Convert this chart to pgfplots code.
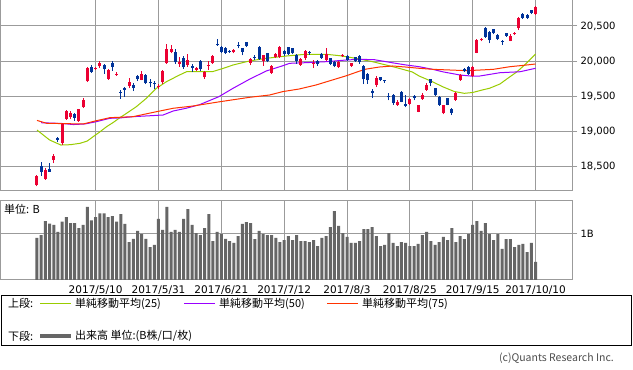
\documentclass[border=0pt]{standalone}
\usepackage{fontspec}
\setmainfont{DejaVu Sans}
\newfontfamily\jp{Noto Sans CJK JP}
\usepackage{pgfplots}
\usepackage{pgfplotstable}
\pgfplotsset{compat=1.18}
\definecolor{cup}{RGB}{235,0,50}
\definecolor{cdn}{RGB}{0,51,153}
\definecolor{mag}{RGB}{153,204,0}
\definecolor{mbp}{RGB}{153,0,255}
\definecolor{mcr}{RGB}{255,51,0}
\definecolor{vgray}{RGB}{102,102,102}
\definecolor{gline}{RGB}{155,155,155}

\pgfplotstableread{
i o h l c
0 18235 18380 18215 18365
2 18318 18480 18310 18446
4 18590 18670 18540 18645
6 18830 19110 18800 19100
7 19175 19300 19160 19290
8 19200 19285 19170 19255
10 19140 19320 19130 19310
11 19340 19470 19330 19450
12 19710 19920 19700 19895
14 19890 19920 19870 19905
15 19925 19995 19900 19975
17 19745 19880 19735 19870
19 19805 19845 19790 19815
22 19645 19755 19610 19700
25 19735 19860 19725 19813
29 19625 19670 19600 19650
30 19695 19875 19680 19860
31 19970 20240 19960 20177
32 20130 20230 20110 20170
34 19955 20060 19920 19985
36 19945 20100 19920 20013
38 19875 19920 19860 19898
40 19770 19860 19750 19840
41 19935 20000 19870 19950
42 19970 20080 19960 20067
47 20125 20170 20110 20160
51 19970 20040 19940 20033
54 20000 20090 19930 20085
56 19835 19945 19820 19930
57 20062 20120 20050 20100
58 20062 20210 20050 20195
63 19945 20040 19930 20025
64 20040 20160 20020 20148
66 19960 20010 19900 19975
69 20018 20180 20000 20100
72 19912 19995 19900 19990
73 20070 20100 20060 20083
75 19935 19975 19920 19968
81 19660 19790 19630 19760
86 19375 19450 19360 19415
89 19390 19470 19380 19465
91 19280 19380 19270 19370
92 19455 19545 19445 19520
93 19590 19690 19580 19660
97 19256 19380 19240 19373
100 19444 19555 19430 19549
101 19730 19810 19720 19801
104 19790 19935 19775 19909
105 20120 20310 20110 20300
106 20295 20330 20280 20310
113 20290 20380 20280 20360
114 20385 20420 20375 20400
115 20467 20630 20440 20610
119 20675 20790 20660 20775
}\up

\pgfplotstableread{
i o h l c
1 18508 18565 18365 18422
3 18465 18540 18420 18425
5 18905 18920 18840 18878
9 19240 19260 19150 19190
13 19920 19940 19830 19845
16 19940 19955 19820 19880
18 19975 19998 19863 19920
20 19560 19590 19460 19550
21 19610 19625 19490 19590
23 19660 19685 19570 19613
24 19790 19800 19715 19742
26 19800 19810 19670 19687
27 19700 19740 19625 19682
28 19690 19710 19600 19677
33 20134 20170 19960 19980
35 20050 20070 19890 19909
37 19930 19955 19850 19908
39 20000 20010 19860 19883
43 20250 20320 20215 20225
44 20205 20215 20120 20135
45 20190 20200 20100 20110
46 20150 20160 20120 20135
48 20235 20270 20180 20225
49 20180 20190 20080 20130
50 20265 20270 20200 20210
52 20065 20090 20010 20055
53 20200 20210 20020 20032
55 20110 20120 19980 19994
59 20148 20160 20070 20098
60 20195 20200 20080 20100
61 20180 20190 20100 20118
62 20086 20095 19960 19999
65 20133 20140 20090 20110
67 20000 20010 19935 19958
68 20100 20110 20030 20050
70 20040 20045 19940 19960
71 19990 19995 19910 19925
74 20072 20085 20000 20020
76 20055 20060 19990 20005
77 20070 20080 19960 19990
78 19930 19945 19670 19738
79 19820 19830 19680 19729
80 19575 19600 19480 19550
82 19770 19780 19710 19725
83 19725 19735 19690 19712
84 19495 19540 19440 19485
85 19516 19530 19380 19400
87 19560 19570 19410 19420
88 19388 19520 19340 19360
90 19495 19510 19440 19470
94 19740 19745 19640 19685
95 19612 19620 19500 19516
96 19492 19500 19360 19378
98 19469 19480 19370 19380
99 19316 19330 19230 19260
102 19880 19897 19848 19865
103 19920 19935 19800 19810
107 20467 20480 20330 20347
108 20415 20430 20253 20300
109 20453 20460 20380 20397
110 20372 20385 20300 20320
111 20285 20300 20230 20270
112 20396 20400 20350 20360
116 20671 20690 20600 20615
117 20657 20670 20600 20620
118 20728 20735 20670 20690
}\dn

\pgfplotstableread{
i v
0 19017
3 18875
5.7 18803
8 18808
10.3 18828
12 18860
13.4 18922
15 18990
16.6 19064
18.2 19125
19.8 19193
21 19240
23.7 19349
26.1 19469
28.5 19612
30.9 19706
34 19801
35.7 19848
38.8 19850
42 19851
44.5 19897
46.8 19944
50.7 20001
54.7 20039
59.5 20072
64.2 20097
69 20097
72.2 20077
76.1 20039
80.1 19991
83.3 19944
86.4 19897
89.6 19844
91.2 19787
94 19716
97 19630
99.6 19566
102 19540
104 19552
106.3 19588
108 19612
110.5 19673
112.5 19760
114.5 19844
116.5 19950
119 20101
}\maa

\pgfplotstableread{
i v
1 19121
6 19110
8.7 19095
11.4 19103
14.2 19136
17.4 19184
19.9 19190
22.9 19207
30.1 19231
32.5 19288
35.6 19327
38.8 19378
43.4 19492
46.8 19612
50.7 19740
54.7 19858
58.7 19934
60.3 19968
64.2 19977
69 19991
73.8 20015
76.9 20025
80.5 20020
84.9 19975
88 19945
91.2 19920
94.6 19880
97 19845
101 19801
103.5 19787
105.7 19787
110.5 19834
115.3 19848
119 19897
}\mab

\pgfplotstableread{
i v
0 19154
2.3 19113
11 19103
14.2 19150
17.4 19193
22.9 19207
28.5 19278
32.5 19327
37.2 19359
43.4 19418
50.7 19483
55.5 19516
58.7 19565
62.6 19602
66.6 19659
70.5 19730
73.8 19790
76.9 19855
78.5 19885
81.7 19915
84.9 19930
88 19915
91.2 19897
94.6 19882
102.6 19863
108.9 19882
112.9 19920
115.3 19934
119 19958
}\mac

\pgfplotstableread{
i v
0 0.91
1 0.97
2 1.27
3 1.22
4 1.19
5 1.04
6 1.26
7 1.36
8 1.23
9 1.23
10 1.12
11 1.19
12 1.58
13 1.29
14 1.36
15 1.44
16 1.44
17 1.36
18 1.38
19 1.26
20 1.42
21 1.21
22 0.82
23 0.89
24 1.06
25 0.99
26 0.89
27 0.71
28 0.76
29 1.32
30 1.08
31 1.58
32 1.04
33 1.08
34 1.04
35 1.32
36 1.53
37 1.19
38 1.01
39 0.97
40 1.12
41 1.42
42 0.84
43 1.04
44 0.99
45 0.89
46 0.84
47 0.80
48 0.95
49 1.21
50 1.25
51 1.23
52 0.88
53 1.06
54 0.99
55 0.97
56 0.97
57 0.91
58 0.82
59 0.86
60 0.95
61 0.86
62 0.97
63 0.84
64 0.84
65 0.82
66 0.86
67 0.73
68 0.91
69 0.95
70 1.14
71 1.49
72 1.17
73 1.01
74 0.93
75 0.80
76 0.80
77 0.84
78 1.10
79 1.10
80 1.14
81 0.95
82 0.73
83 0.76
84 1.01
85 0.80
86 0.73
87 0.82
88 0.80
89 0.73
90 0.73
91 0.78
92 0.97
93 1.04
94 0.84
95 0.76
96 0.82
97 0.93
98 0.86
99 1.12
100 0.82
101 0.95
102 0.88
103 0.99
104 1.19
105 1.27
106 1.06
107 1.23
108 0.99
109 0.86
110 0.99
111 0.67
112 0.88
113 0.88
114 0.71
115 0.76
116 0.78
117 0.60
118 0.80
119 0.39
}\vol

\begin{document}
\begin{tikzpicture}[x=1pt,y=1pt]
\fill[white] (0,0) rectangle (633,370);
\useasboundingbox (0,0) rectangle (633,370);

\begin{axis}[at={(0pt,179.7pt)}, anchor=south west,
  width=572pt, height=190.3pt, scale only axis,
  xmin=-8.83, xmax=127.7, ymin=18157.6, ymax=20870.7,
  xtick={14,29,44,59,74,89,104,119}, xticklabels={}, xtick style={draw=none},
  ytick={18500,19000,19500,20000,20500},
  scaled y ticks=false,
  ytick pos=right, yticklabel pos=right,
  tick align=outside, major tick length=5pt,
  ytick style={gline, line width=1pt},
  grid=major, major grid style={gline, line width=1pt},
  axis line style={gline, line width=1pt},
  /pgf/number format/assume math mode=true,
  yticklabel style={font=\fontsize{10}{12}\selectfont, /pgf/number format/fixed, /pgf/number format/precision=0, /pgf/number format/1000 sep={,}},
]
\addplot[mag, line width=1pt] table[x=i,y=v] {\maa};
\addplot[mbp, line width=1pt] table[x=i,y=v] {\mab};
\addplot[mcr, line width=1pt] table[x=i,y=v] {\mac};
% wicks
\addplot[draw=none, mark=none, error bars/.cd, y dir=plus, y explicit, error mark=none,
  error bar style={draw=cup, line width=1pt}]
  table[x=i, y=l, y error expr=\thisrow{h}-\thisrow{l}] {\up};
\addplot[draw=none, mark=none, error bars/.cd, y dir=plus, y explicit, error mark=none,
  error bar style={draw=cdn, line width=1pt}]
  table[x=i, y=l, y error expr=\thisrow{h}-\thisrow{l}] {\dn};
% bodies
\addplot[draw=none, mark=none, error bars/.cd, y dir=plus, y explicit, error mark=none,
  error bar style={draw=cup, line width=3pt}]
  table[x=i, y=o, y error expr=\thisrow{c}-\thisrow{o}] {\up};
\addplot[draw=none, mark=none, error bars/.cd, y dir=plus, y explicit, error mark=none,
  error bar style={draw=cdn, line width=3pt}]
  table[x=i, y=c, y error expr=\thisrow{o}-\thisrow{c}] {\dn};
\end{axis}

\begin{axis}[at={(0pt,90pt)}, anchor=south west,
  width=572pt, height=79pt, scale only axis,
  xmin=-8.83, xmax=127.7, ymin=0, ymax=1.706,
  xtick={14,29,44,59,74,89,104,119},
  xticklabels={2017/5/10,2017/5/31,2017/6/21,2017/7/12,2017/8/3,2017/8/25,2017/9/15,2017/10/10},
  xtick style={draw=none},
  ytick={1}, yticklabels={1B},
  ytick pos=right, yticklabel pos=right,
  tick align=outside, major tick length=5pt,
  ytick style={gline, line width=1pt},
  grid=major, major grid style={gline, line width=1pt},
  axis line style={gline, line width=1pt},
  xticklabel style={font=\fontsize{10.5}{12}\selectfont, yshift=3pt},
  yticklabel style={font=\fontsize{10}{12}\selectfont},
  ybar, bar width=3pt,
]
\addplot[fill=vgray, draw=none] table[x=i,y=v] {\vol};
\end{axis}

\node[anchor=west, inner sep=0pt, font=\jp\fontsize{11}{13}\selectfont] at (4,161) {単位: B};

% legend box
\draw[black, line width=1pt] (1.5,24) rectangle (631,74);
\begin{scope}[every node/.style={anchor=west, inner sep=0pt, font=\jp\fontsize{11}{13}\selectfont}]
\node at (8,66.5) {上段:};
\draw[mag, line width=1pt] (40,66.5) -- (71,66.5);
\node at (75,66.5) {単純移動平均(25)};
\draw[mbp, line width=1pt] (184,66.5) -- (215,66.5);
\node at (219,66.5) {単純移動平均(50)};
\draw[mcr, line width=1pt] (327,66.5) -- (358,66.5);
\node at (362,66.5) {単純移動平均(75)};
\node at (8,34) {下段:};
\draw[vgray, line width=3.5pt] (40,34) -- (71,34);
\node at (75,34) {出来高 単位:(B株/口/枚)};
\end{scope}
\node[anchor=east, inner sep=0pt, font=\jp\fontsize{10.5}{12}\selectfont, text=black!70] at (614,12) {(c)Quants Research Inc.};
\end{tikzpicture}
\end{document}
